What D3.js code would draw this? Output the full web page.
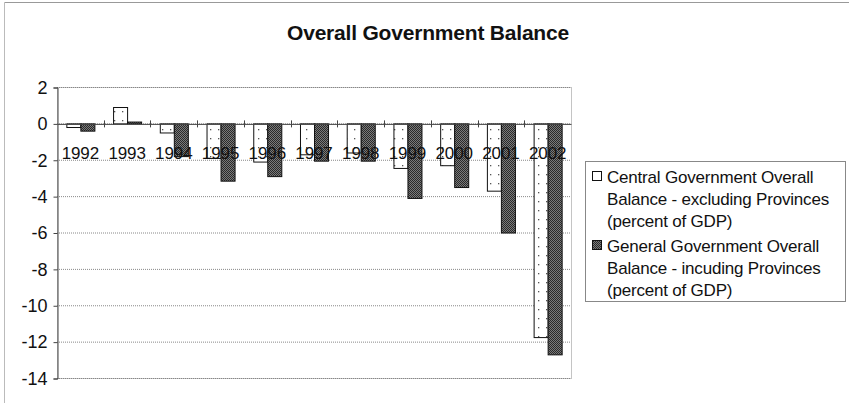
<!DOCTYPE html>
<html><head><meta charset="utf-8">
<script src="https://cdn.jsdelivr.net/npm/d3@7"></script>
<style>body{margin:0;background:#fff}svg{display:block}text{font-family:"Liberation Sans",Arial,sans-serif;fill:#111}</style>
</head><body>
<script>
const years = ["1992","1993","1994","1995","1996","1997","1998","1999","2000","2001","2002"];
const central = [-0.2, 0.9, -0.5, -1.9, -2.1, -1.7, -1.6, -2.45, -2.3, -3.7, -11.75];
const general = [-0.4, 0.1, -1.8, -3.15, -2.9, -2.05, -2.05, -4.1, -3.5, -6.0, -12.7];
const yTicks = [2,0,-2,-4,-6,-8,-10,-12,-14];
const seriesNames = [
  ["Central Government Overall","Balance - excluding Provinces","(percent of GDP)"],
  ["General Government Overall","Balance - incuding Provinces","(percent of GDP)"]
];

const W=849,H=403;
const svg=d3.select("body").append("svg").attr("width",W).attr("height",H);
const defs=svg.append("defs");
const pd=defs.append("pattern").attr("id","dots").attr("patternUnits","userSpaceOnUse").attr("width",8).attr("height",9);
pd.append("rect").attr("width",8).attr("height",9).attr("fill","#fff");
pd.append("rect").attr("x",2).attr("y",3).attr("width",1.3).attr("height",1.3).attr("fill","#555");
const pc=defs.append("pattern").attr("id","check").attr("patternUnits","userSpaceOnUse").attr("width",2).attr("height",2);
pc.append("rect").attr("width",2).attr("height",2).attr("fill","#7a7a7a");
pc.append("rect").attr("width",1).attr("height",1).attr("fill","#2a2a2a");
pc.append("rect").attr("x",1).attr("y",1).attr("width",1).attr("height",1).attr("fill","#2a2a2a");

// outer border (top & left visible)
svg.append("line").attr("x1",4.5).attr("x2",849).attr("y1",2.5).attr("y2",2.5).attr("stroke","#999");
svg.append("line").attr("x1",4.5).attr("x2",4.5).attr("y1",2.5).attr("y2",403).attr("stroke","#bbb");

svg.append("text").attr("x",428).attr("y",40).attr("text-anchor","middle")
  .attr("font-weight","bold").attr("font-size",21).attr("letter-spacing","-0.2").text("Overall Government Balance");

const L=57,R=571,T=87,B=378;
const x=d3.scaleBand().domain(years).range([L,R]).padding(0);
const y=d3.scaleLinear().domain([-14,2]).range([B,T]);

// gridlines
svg.append("g").selectAll("line").data(yTicks).join("line")
  .attr("x1",L).attr("x2",R).attr("y1",d=>y(d)+0.5).attr("y2",d=>y(d)+0.5)
  .attr("stroke","#888").attr("stroke-width",1).attr("stroke-dasharray","1,1");
// plot border
svg.append("rect").attr("x",L+0.5).attr("y",T+0.5).attr("width",R-L).attr("height",B-T)
  .attr("fill","none").attr("stroke","#888").attr("stroke-dasharray","1,1");

const bw=x.bandwidth()*0.3;
const g=svg.append("g");
g.selectAll("rect.c").data(years).join("rect").attr("class","c")
  .attr("x",d=>x(d)+x.bandwidth()/2-bw+0.5)
  .attr("y",(d,i)=>Math.min(y(central[i]),y(0))+0.5)
  .attr("width",bw).attr("height",(d,i)=>Math.abs(y(central[i])-y(0)))
  .attr("fill","url(#dots)").attr("stroke","#111").attr("stroke-width",1);
g.selectAll("rect.g").data(years).join("rect").attr("class","g")
  .attr("x",d=>x(d)+x.bandwidth()/2+0.5)
  .attr("y",(d,i)=>Math.min(y(general[i]),y(0))+0.5)
  .attr("width",bw).attr("height",(d,i)=>Math.abs(y(general[i])-y(0)))
  .attr("fill","url(#check)").attr("stroke","#111").attr("stroke-width",1);

// y axis
const ya=svg.append("g").attr("transform",`translate(${L+0.5},0.5)`)
  .call(d3.axisLeft(y).tickValues(yTicks).tickSize(4).tickPadding(6).tickFormat(d=>String(d)));
ya.select(".domain").attr("stroke","#444");
ya.selectAll(".tick line").attr("stroke","#444");
ya.selectAll("text").attr("font-size",18).attr("fill","#111").attr("font-family","Liberation Sans, Arial, sans-serif");

// x axis at zero
const xa=svg.append("g").attr("transform",`translate(0,${y(0)+0.5})`)
  .call(d3.axisBottom(x).tickSize(0).tickPadding(0));
xa.select(".domain").attr("stroke","#444");
xa.selectAll("text").attr("font-size",17).attr("dy",0).attr("y",35).attr("fill","#111")
  .attr("letter-spacing","-0.1").attr("font-family","Liberation Sans, Arial, sans-serif");
// boundary ticks
svg.append("g").selectAll("line").data(years.slice(1)).join("line")
  .attr("x1",d=>Math.round(x(d))+0.5).attr("x2",d=>Math.round(x(d))+0.5)
  .attr("y1",y(0)-3).attr("y2",y(0)+4).attr("stroke","#444");

// legend
const lg=svg.append("g");
lg.append("rect").attr("x",585.5).attr("y",161.5).attr("width",260).attr("height",140)
  .attr("fill","#fff").attr("stroke","#888");
seriesNames.forEach((lines,i)=>{
  const top=i===0?183:252;
  lg.append("rect").attr("x",592.5).attr("y",top-11.5).attr("width",9).attr("height",9)
    .attr("fill",i===0?"#fff":"url(#check)").attr("stroke","#111");
  lines.forEach((t,j)=>{
    lg.append("text").attr("x",607).attr("y",top+j*21.8).attr("font-size",17).attr("letter-spacing","-0.2").text(t);
  });
});
</script>
</body></html>
